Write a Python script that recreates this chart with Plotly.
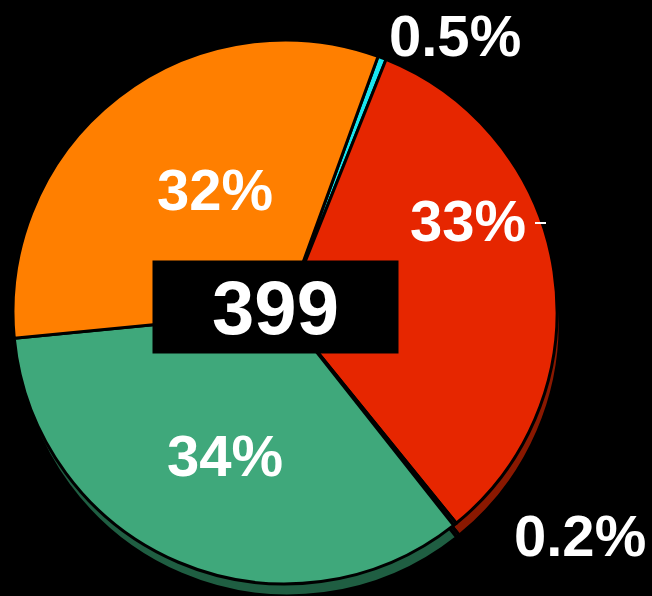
import plotly.graph_objects as go

labels = ["0.5%", "33%", "0.2%", "34%", "32%"]
values = [0.5, 33, 0.2, 34, 32]
colors = ["#19e6f0", "#e62600", "#1a1a1a", "#3fa87b", "#ff7f00"]
shadow_colors = ["#0d7378", "#8a1800", "#111111", "#1f5e42", "#8a4500"]
total_label = "399"

W, H = 652, 596
cx, cy, r = 285, 312, 272
dx, dy = 3, 12

# label anchor positions in pixels (styling, not data)
label_pos = [(455, 35), (468, 220), (580, 535), (225, 455), (215, 190)]

def dom(cx_, cy_, r_):
    return dict(x=[(cx_ - r_) / W, (cx_ + r_) / W],
                y=[max(0, (H - cy_ - r_) / H), (H - cy_ + r_) / H])

font = "Liberation Sans, Arial, sans-serif"

fig = go.Figure()
fig.add_trace(go.Pie(
    values=values, labels=labels, sort=False, direction="clockwise", rotation=20,
    marker=dict(colors=shadow_colors, line=dict(color="black", width=3)),
    textinfo="none", hoverinfo="skip", showlegend=False,
    domain=dom(cx + dx, cy + dy, r),
))
fig.add_trace(go.Pie(
    values=values, labels=labels, sort=False, direction="clockwise", rotation=20,
    marker=dict(colors=colors, line=dict(color="black", width=3)),
    textinfo="none", showlegend=False,
    domain=dom(cx, cy, r),
))
for lab, (px, py) in zip(labels, label_pos):
    fig.add_annotation(
        text=lab, x=px / W, y=1 - py / H, xref="paper", yref="paper",
        showarrow=False, xanchor="center", yanchor="middle",
        font=dict(family=font, size=58, color="white", weight="bold"),
    )
fig.add_annotation(
    text=total_label, x=275.5 / W, y=1 - 307 / H, xref="paper", yref="paper",
    showarrow=False, bgcolor="black", width=243, height=90,
    font=dict(family=font, size=76, color="white", weight="bold"),
)
fig.add_shape(type="line", xref="paper", yref="paper",
              x0=535 / W, x1=546 / W, y0=1 - 223 / H, y1=1 - 223 / H,
              line=dict(color="white", width=2))
fig.update_layout(
    width=W, height=H, paper_bgcolor="black", plot_bgcolor="black",
    margin=dict(l=0, r=0, t=0, b=0),
)
fig.write_html("out.html", config={"displayModeBar": False},
               post_script="document.body.style.margin='0';document.body.style.background='black';")
